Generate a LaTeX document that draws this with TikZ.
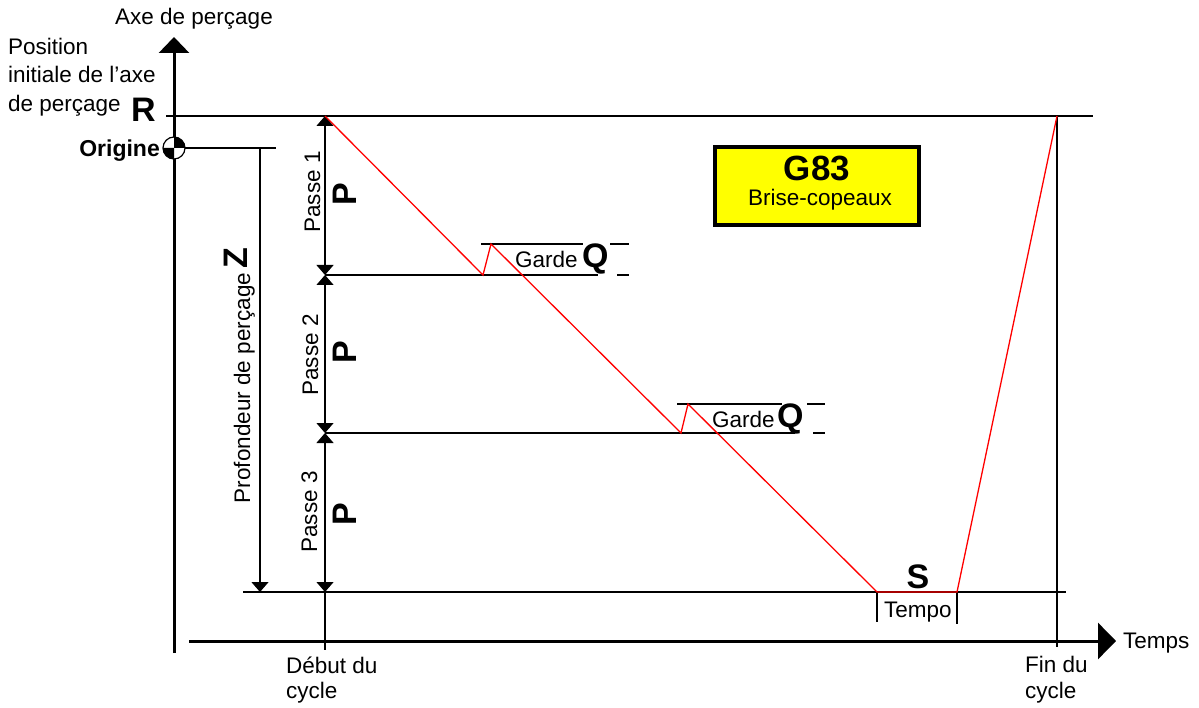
\documentclass[tikz,border=0pt]{standalone}
\usepackage{fontspec}
\setmainfont{Liberation Sans}
\usetikzlibrary{arrows.meta}
\definecolor{cutred}{RGB}{255,0,0}
\definecolor{boxyellow}{RGB}{255,255,0}
\newcommand{\plaintextsize}{\fontsize{22.5}{26}\selectfont}
\newcommand{\bigletterfont}{\fontsize{34}{36}\selectfont\bfseries}
\tikzset{
  thin line/.style={line width=1.3pt, black},
  axis line/.style={line width=3pt, black},
  dimline/.style={line width=1.3pt, black, arrows={-Triangle[width=17pt,length=10pt]}},
  dimboth/.style={line width=1.3pt, black, arrows={Triangle[width=17pt,length=10pt]-Triangle[width=17pt,length=10pt]}},
  toolpath/.style={line width=1.3pt, cutred, line join=miter},
  txtlabel/.style={inner sep=0pt, font=\plaintextsize},
  letter/.style={inner sep=0pt, font=\bigletterfont},
}
\begin{document}
\begin{tikzpicture}[x=1pt,y=-1pt]
\useasboundingbox (0,0) rectangle (1199,708);

% reference points
\coordinate (axtop) at (174,37);
\coordinate (axbot) at (174,653);
\coordinate (taxl) at (189,641);
\coordinate (taxr) at (1116,641);
\coordinate (Rl) at (166,116);
\coordinate (Rr) at (1093,116);
\coordinate (O) at (174,148);
\coordinate (Oend) at (276,148);
\coordinate (Ztop) at (260,148);
\coordinate (Zbot) at (260,592);
\coordinate (Bl) at (243,592);
\coordinate (Br) at (1066,592);
\coordinate (p0) at (325,116);
\coordinate (p1) at (325,275);
\coordinate (p2) at (325,433);
\coordinate (p3) at (325,592);
\coordinate (pend) at (325,650);
\coordinate (f0) at (1057,116);
\coordinate (fend) at (1057,647);

% axes
\draw[axis line, arrows={-Triangle[width=30pt,length=16pt]}] (axbot) -- (axtop);
\draw[axis line, arrows={-Triangle[width=36pt,length=18pt]}] (taxl) -- (taxr);

% level lines
\draw[thin line] (Rl) -- (Rr);
\draw[thin line] (O) -- (Oend);
\draw[thin line] (Bl) -- (Br);
\draw[thin line] (p1) -- (598,275);
\draw[thin line] (p2) -- (795,433);

% cycle start / end verticals
\draw[dimboth] (p0) -- (p1);
\draw[dimboth] (p1) -- (p2);
\draw[dimboth] (p2) -- (p3);
\draw[thin line] (p3) -- (pend);
\draw[thin line] (f0) -- (fend);

% total depth
\draw[dimline] (Ztop) -- (Zbot);

% clearance marks
\draw[thin line] (481,244) -- (583,244);
\draw[thin line] (610,244) -- (629,244);
\draw[thin line] (617,275) -- (629,275);
\draw[thin line] (677,404) -- (782,404);
\draw[thin line] (807,404) -- (825,404);
\draw[thin line] (813,433) -- (825,433);

% dwell marks
\coordinate (s1) at (877,592);
\coordinate (s2) at (957,592);
\draw[thin line] (s1) -- (877,622);
\draw[thin line] (s2) -- (957,624);

% tool path
\draw[toolpath] (p0) -- (483,275) -- (491,244) -- (681,433) -- (688,404)
  -- (s1) -- (s2) -- (f0);

% origin symbol
\fill[white] (O) circle (11);
\fill[black] (O) -- ++(11,0) arc[start angle=0,end angle=-90,radius=11] -- cycle;
\fill[black] (O) -- ++(-11,0) arc[start angle=180,end angle=90,radius=11] -- cycle;
\draw[line width=1.2pt] (O) circle (11);

% title box
\node[draw=black, line width=4.5pt, fill=boxyellow, minimum width=204pt,
      minimum height=78pt, inner sep=0pt] (title) at (817,186) {};
\node[inner sep=0pt, anchor=base, font=\fontsize{35}{38}\selectfont\bfseries] (g83) at (817,181) {G83};
\node[txtlabel, anchor=base] (brise) at (820,206) {Brise-copeaux};

% texts
\node[txtlabel, anchor=base west] (axe) at (115,25) {Axe de perçage};
\node[txtlabel, anchor=base west] (pos1) at (8,55) {Position};
\node[txtlabel, anchor=base west] (pos2) at (8,83) {initiale de l\symbol{39}axe};
\node[txtlabel, anchor=base west] (pos3) at (8,112) {de perçage};
\node[letter, anchor=base east] (R) at (156,122) {R};
\node[inner sep=0pt, anchor=base east, font=\fontsize{23}{26}\selectfont\bfseries] (orig) at (160,157) {Origine};

\node[txtlabel, anchor=base, rotate=90] (pass1) at (320,192) {Passe 1};
\node[txtlabel, anchor=base, rotate=90] (pass2) at (318,355) {Passe 2};
\node[txtlabel, anchor=base, rotate=90] (pass3) at (317,512) {Passe 3};
\node[letter, anchor=base, rotate=90] (P1) at (356,194) {P};
\node[letter, anchor=base, rotate=90] (P2) at (356,352) {P};
\node[letter, anchor=base, rotate=90] (P3) at (356,514) {P};
\node[txtlabel, anchor=base, rotate=90] (prof) at (250,388) {Profondeur de perçage};
\node[letter, anchor=base, rotate=90] (Z) at (247,258) {Z};

\node[txtlabel, anchor=base west] (garde1) at (515,268) {Garde};
\node[letter, anchor=base west] (Q1) at (582,268) {Q};
\node[txtlabel, anchor=base west] (garde2) at (712,427) {Garde};
\node[letter, anchor=base west] (Q2) at (777,427) {Q};

\node[letter, anchor=base] (S) at (918,588) {S};
\node[txtlabel, anchor=base west] (tempo) at (884,617) {Tempo};

\node[txtlabel, anchor=base west] (temps) at (1123,648) {Temps};
\node[txtlabel, anchor=base west] (deb1) at (286,673) {Début du};
\node[txtlabel, anchor=base west] (deb2) at (286,698) {cycle};
\node[txtlabel, anchor=base west] (fin1) at (1025,672) {Fin du};
\node[txtlabel, anchor=base west] (fin2) at (1025,698) {cycle};
\end{tikzpicture}
\end{document}
